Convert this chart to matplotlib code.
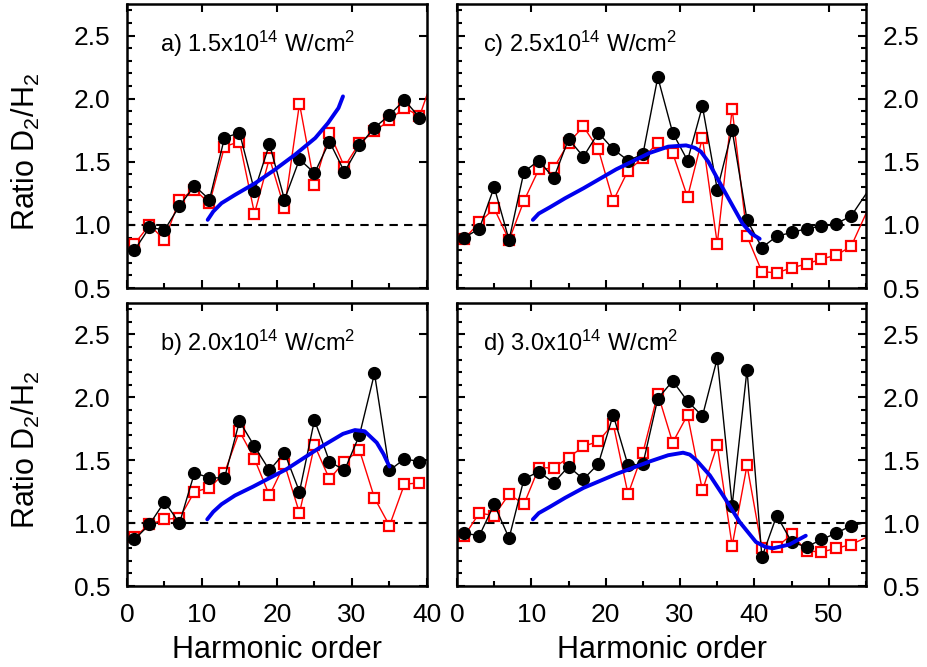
from matplotlib import pyplot as plt
from matplotlib.ticker import MultipleLocator

plt.rcParams['font.family'] = ['Liberation Sans', 'DejaVu Sans']
plt.rcParams['mathtext.fontset'] = 'custom'
plt.rcParams['mathtext.rm'] = 'Liberation Sans'
plt.rcParams['mathtext.it'] = 'Liberation Sans:italic'

# a) 1.5x10^14
order_a = [1, 3, 5, 7, 9, 11, 13, 15, 17, 19, 21, 23, 25, 27, 29, 31, 33, 35, 37, 39]
black_a = [0.80, 0.98, 0.96, 1.15, 1.31, 1.20, 1.69, 1.73, 1.27, 1.64, 1.20, 1.52, 1.41, 1.66, 1.42, 1.63, 1.77, 1.87, 1.99, 1.85]
order_a_red = order_a + [41]
red_a = [0.85, 1.00, 0.88, 1.20, 1.28, 1.17, 1.62, 1.66, 1.09, 1.53, 1.13, 1.96, 1.32, 1.73, 1.46, 1.65, 1.74, 1.83, 1.93, 1.86, 2.20]
theo_x_a = [10.76, 11.5, 12.6, 14.4, 17.1, 19.7, 22.4, 25.1, 26.8, 28.2, 28.8]
theo_y_a = [1.04, 1.106, 1.172, 1.238, 1.331, 1.437, 1.556, 1.688, 1.807, 1.926, 2.018]

# b) 2.0x10^14
order_b = [1, 3, 5, 7, 9, 11, 13, 15, 17, 19, 21, 23, 25, 27, 29, 31, 33, 35, 37, 39]
black_b = [0.87, 0.99, 1.17, 1.00, 1.40, 1.36, 1.36, 1.81, 1.61, 1.42, 1.56, 1.25, 1.82, 1.49, 1.42, 1.70, 2.19, 1.42, 1.51, 1.49]
red_b = [0.89, 0.99, 1.03, 1.04, 1.25, 1.28, 1.40, 1.73, 1.51, 1.22, 1.47, 1.08, 1.62, 1.35, 1.49, 1.58, 1.20, 0.98, 1.31, 1.32]
theo_x_b = [10.7, 11.5, 12.6, 14.4, 16.8, 21.3, 25.7, 28.8, 30.4, 31.7, 33.3, 34.2, 35.0]
theo_y_b = [1.03, 1.09, 1.15, 1.22, 1.29, 1.43, 1.60, 1.71, 1.74, 1.73, 1.64, 1.55, 1.45]

# c) 2.5x10^14
order_c = [1, 3, 5, 7, 9, 11, 13, 15, 17, 19, 21, 23, 25, 27, 29, 31, 33, 35, 37, 39,
           41, 43, 45, 47, 49, 51, 53, 57]
black_c = [0.90, 0.97, 1.30, 0.88, 1.42, 1.51, 1.37, 1.68, 1.54, 1.73, 1.60, 1.51, 1.56, 2.17, 1.73, 1.51, 1.94, 1.28, 1.75, 1.04,
           0.82, 0.91, 0.94, 0.97, 0.99, 1.01, 1.07, 1.42]
red_c = [0.89, 1.02, 1.13, 0.88, 1.19, 1.44, 1.45, 1.65, 1.78, 1.60, 1.19, 1.43, 1.53, 1.65, 1.57, 1.22, 1.69, 0.85, 1.92, 0.91,
         0.63, 0.62, 0.66, 0.69, 0.73, 0.76, 0.83, 1.35]
theo_x_c = [10.2, 11.0, 12.5, 14.5, 17.0, 21.4, 25.9, 28.4, 30.8, 32.0, 32.8, 33.8, 34.9, 36.6, 38.4, 39.6, 40.7]
theo_y_c = [1.04, 1.09, 1.14, 1.21, 1.29, 1.44, 1.57, 1.62, 1.63, 1.61, 1.58, 1.50, 1.38, 1.20, 1.01, 0.93, 0.89]

# d) 3.0x10^14
order_d = order_c
black_d = [0.92, 0.90, 1.15, 0.88, 1.35, 1.41, 1.32, 1.45, 1.35, 1.47, 1.86, 1.46, 1.47, 1.99, 2.13, 1.97, 1.85, 2.31, 1.14, 2.22,
           0.73, 1.06, 0.85, 0.81, 0.87, 0.92, 0.98, 1.03]
red_d = [0.90, 1.08, 1.06, 1.23, 1.15, 1.44, 1.44, 1.52, 1.61, 1.65, 1.79, 1.23, 1.56, 2.03, 1.64, 1.86, 1.26, 1.62, 0.82, 1.46,
         0.80, 0.81, 0.91, 0.78, 0.77, 0.80, 0.83, 0.94]
theo_x_d = [10.2, 11.0, 12.5, 14.5, 17.0, 21.4, 25.9, 28.4, 30.4, 31.3, 32.2, 34.0, 36.0, 38.0, 40.2, 41.5, 42.5, 44.7, 46.9]
theo_y_d = [1.03, 1.08, 1.13, 1.20, 1.28, 1.39, 1.49, 1.54, 1.56, 1.545, 1.50, 1.38, 1.20, 1.01, 0.85, 0.81, 0.80, 0.83, 0.90]

labels = [r"a) 1.5x10$^{14}$ W/cm$^2$", r"b) 2.0x10$^{14}$ W/cm$^2$",
          r"c) 2.5x10$^{14}$ W/cm$^2$", r"d) 3.0x10$^{14}$ W/cm$^2$"]

fig = plt.figure(figsize=(9.27, 6.67), dpi=100)
ax_a = fig.add_axes([0.137, 0.5682, 0.3236, 0.4258])
ax_b = fig.add_axes([0.137, 0.1214, 0.3236, 0.4243])
ax_c = fig.add_axes([0.493, 0.5682, 0.4412, 0.4258])
ax_d = fig.add_axes([0.493, 0.1214, 0.4412, 0.4243])


def panel(ax, xb, yb, xr, yr, xt, yt, label, xmax, right):
    ax.axhline(1.0, color='black', ls=(0, (4, 3)), lw=1.5, zorder=1)
    ax.plot(xr, yr, color='red', lw=1.0, marker='s', ms=7.5, mfc='white', mec='red', mew=1.6, zorder=2)
    ax.plot(xb, yb, color='black', lw=1.0, marker='o', ms=8.5, mfc='black', mec='black', zorder=3)
    ax.plot(xt, yt, color='#0000ee', lw=2.8, zorder=4, solid_capstyle='round')
    ax.set_xlim(0, xmax)
    ax.set_ylim(0.5, 2.75)
    ax.xaxis.set_major_locator(MultipleLocator(10))
    ax.xaxis.set_minor_locator(MultipleLocator(5))
    ax.yaxis.set_major_locator(MultipleLocator(0.5))
    ax.yaxis.set_minor_locator(MultipleLocator(0.1))
    ax.yaxis.set_major_formatter(plt.FormatStrFormatter('%.1f'))
    ax.tick_params(which='both', direction='in', top=True, right=True, labelsize=19, pad=12, width=1.5)
    ax.tick_params(which='major', length=6)
    ax.tick_params(which='minor', length=3.5, top=False, right=right)
    if right:
        ax.tick_params(labelleft=False, labelright=True)
    for s in ax.spines.values():
        s.set_linewidth(1.8)
    ax.text(0.11 if not right else 0.064, 0.83, label, transform=ax.transAxes, fontsize=17, va='baseline')


panel(ax_a, order_a, black_a, order_a_red, red_a, theo_x_a, theo_y_a, labels[0], 40, False)
panel(ax_b, order_b, black_b, order_b, red_b, theo_x_b, theo_y_b, labels[1], 40, False)
panel(ax_c, order_c, black_c, order_c, red_c, theo_x_c, theo_y_c, labels[2], 55, True)
panel(ax_d, order_d, black_d, order_d, red_d, theo_x_d, theo_y_d, labels[3], 55, True)

ax_a.tick_params(labelbottom=False)
ax_c.tick_params(labelbottom=False)

for ax in [ax_a, ax_b]:
    ax.set_ylabel(r"Ratio D$_2$/H$_2$", fontsize=22)
    ax.yaxis.set_label_coords(-0.285, 0.48)
for ax in [ax_b, ax_d]:
    ax.set_xlabel("Harmonic order", fontsize=22, labelpad=6)

plt.savefig("out.png")
